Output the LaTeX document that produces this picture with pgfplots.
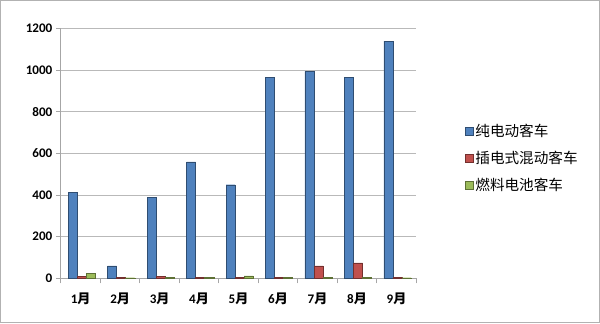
\documentclass[border=0pt]{standalone}
\usepackage{pgfplots}
\pgfplotsset{compat=1.18}
\usepackage{fontspec}
\setmainfont{Carlito}
\newfontfamily\cjk{Noto Sans CJK SC}
\definecolor{cb}{HTML}{4F81BD}
\definecolor{cr}{HTML}{C0504D}
\definecolor{cg}{HTML}{9BBB59}
\begin{document}
\begin{tikzpicture}[x=1pt,y=1pt]
\draw[gray!60, line width=1pt] (2,4) rectangle (597,324);
\begin{axis}[
  at={(62pt,48pt)}, anchor=south west,
  scale only axis, width=353pt, height=248pt,
  ybar, bar width=9pt,
  xmin=-0.5, xmax=8.5, ymin=0, ymax=1200,
  xtick={0,...,8},
  xticklabels={1\cjk{月},2\cjk{月},3\cjk{月},4\cjk{月},5\cjk{月},6\cjk{月},7\cjk{月},8\cjk{月},9\cjk{月}},
  minor xtick={-0.5,0.5,...,8.5},
  ytick={0,200,...,1200},
  major x tick style={draw=none},
  minor x tick style={gray!70, line width=1pt},
  y tick style={gray!70, line width=1pt},
  major tick length=5pt, minor tick length=5pt,
  tick align=outside,
  axis x line*=bottom, axis y line*=left,
  axis line style={gray!70, line width=1pt, -},
  ymajorgrids, grid style={gray!55, line width=1pt},
  /pgf/number format/1000 sep={},
  /pgf/number format/assume math mode=true,
  ticklabel style={font=\fontsize{13}{15}\selectfont\bfseries},
  xticklabel style={yshift=-6pt},
  legend style={at={(1.128,0.48)}, anchor=west, draw=none, fill=none,
    font=\cjk\fontsize{14.5}{16}\selectfont, row sep=9pt,
    /tikz/every even column/.append style={column sep=2pt}},
  legend cell align=left,
  legend image code/.code={\fill[#1] (0pt,-4pt) rectangle (8pt,4pt);},
]
\addplot[fill=cb, draw=cb!60!black, bar shift=-8pt] coordinates {(0,415) (1,60) (2,390) (3,560) (4,450) (5,965) (6,995) (7,965) (8,1140)};
\addplot[fill=cr, draw=cr!60!black, bar shift=1pt] coordinates {(0,8) (1,4) (2,8) (3,6) (4,6) (5,6) (6,60) (7,75) (8,6)};
\addplot[fill=cg, draw=cg!60!black, bar shift=10pt] coordinates {(0,25) (1,3) (2,4) (3,5) (4,12) (5,4) (6,4) (7,5) (8,3)};
\legend{纯电动客车,插电式混动客车,燃料电池客车}
\end{axis}
\end{tikzpicture}
\end{document}
